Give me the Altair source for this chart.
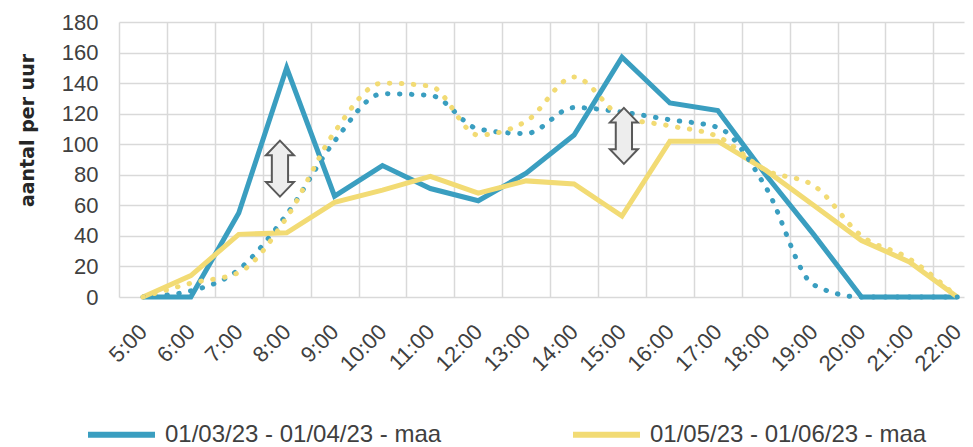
import altair as alt
import pandas as pd

# ---- data ----
hour_labels = ["5:00", "6:00", "7:00", "8:00", "9:00", "10:00", "11:00", "12:00",
               "13:00", "14:00", "15:00", "16:00", "17:00", "18:00", "19:00",
               "20:00", "21:00", "22:00"]
hour_num = list(range(5, 23))
series_names = ["01/03/23 - 01/04/23 - maa", "01/05/23 - 01/06/23 - maa"]

blue_solid = [0, 0, 55, 150, 66, 86, 71, 63, 81, 106, 157, 127, 122, 80, 41, 0, 0, 0]
yellow_solid = [0, 14, 41, 42, 62, 70, 79, 68, 76, 74, 53, 102, 102, 83, 60, 37, 23, 0]
blue_dotted = [0, 4, 18, 54, 102, 133, 132, 110, 107, 124, 121, 116, 111, 72, 8, 0, 0, 0]
yellow_dotted = [0, 9, 16, 52, 108, 140, 138, 106, 115, 144, 118, 112, 105, 83, 73, 40, 25, 0]

arrow_hour = [7.86, 15.04]
arrow_value = [84, 105.5]

y_ticks = list(range(0, 181, 20))
grid_x = [h - 0.5 for h in hour_num]  # category boundaries

colors = ["#3A9EC0", "#F2DB74"]
FONT = "Liberation Sans"
TXT = "#404040"

# ---- tables ----
solid_df = pd.DataFrame({
    "hour": hour_num * 2,
    "value": blue_solid + yellow_solid,
    "series": [series_names[0]] * 18 + [series_names[1]] * 18,
})
dotted_df = pd.DataFrame({
    "hour": hour_num * 2,
    "value": blue_dotted + yellow_dotted,
    "series": [series_names[0]] * 18 + [series_names[1]] * 18,
})
arrow_df = pd.DataFrame({"hour": arrow_hour, "value": arrow_value})

x_scale = alt.Scale(domain=[4.5, 22.14], nice=False, zero=False)
y_scale = alt.Scale(domain=[0, 180], nice=False)
color_scale = alt.Scale(domain=series_names, range=colors)

y_axis = alt.Axis(
    values=y_ticks, title="aantal per uur", grid=True, gridColor="#d9d9d9",
    gridWidth=1.5, domain=False, ticks=False, tickSize=0, labelPadding=21,
    labelFont=FONT, labelFontSize=22, labelColor=TXT,
    titleFont="DejaVu Sans", titleFontSize=19, titleFontWeight="bold",
    titleColor="#262626", titleAngle=270, titleX=-92, titleY=108,
    titleAlign="center", titleBaseline="middle",
)
y_enc = alt.Y("value:Q", scale=y_scale, axis=y_axis)

label_expr = "[" + ",".join("'%s'" % h for h in hour_labels) + "][datum.value - 5]"

grid_axis = alt.Axis(values=grid_x, grid=True, gridColor="#d9d9d9", gridWidth=1.5,
                     labels=False, ticks=False, domain=False, title=None, orient="bottom")
label_axis = alt.Axis(values=hour_num, grid=False, ticks=False, tickSize=0, domain=False,
                      title=None, orient="bottom", labelExpr=label_expr,
                      labelAngle=-45, labelAlign="right", labelBaseline="middle",
                      labelPadding=31, labelFont=FONT, labelFontSize=22,
                      labelColor=TXT, labelOverlap=False, labelBound=False,
                      labelFlush=False)

solid = alt.Chart(solid_df).mark_line(strokeWidth=5, strokeJoin="miter").encode(
    x=alt.X("hour:Q", scale=x_scale, axis=grid_axis),
    y=y_enc,
    color=alt.Color("series:N", scale=color_scale, legend=alt.Legend(
        title=None, orient="none", legendX=-34, legendY=376, direction="horizontal",
        symbolType="stroke", symbolSize=4489, symbolStrokeWidth=6,
        symbolOpacity=1, symbolDash=[1, 0],
        labelFont=FONT, labelFontSize=24, labelColor=TXT, labelOffset=7,
        labelLimit=500, columnPadding=119, padding=0)),
)

dotted = alt.Chart(dotted_df).mark_line(
    strokeWidth=5, strokeDash=[0.5, 11.5], strokeCap="round", interpolate="monotone"
).encode(
    x=alt.X("hour:Q", scale=x_scale, axis=label_axis),
    y=y_enc,
    color=alt.Color("series:N", scale=color_scale, legend=None),
)

arrow_path = ("M0,-1L0.5,-0.48L0.29,-0.48L0.29,0.48L0.5,0.48L0,1L-0.5,0.48"
              "L-0.29,0.48L-0.29,-0.48L-0.5,-0.48Z")
arrows = alt.Chart(arrow_df).mark_point(
    shape=arrow_path, size=3136, filled=True, fill="#EDEDED", stroke="#595959",
    strokeWidth=2, opacity=1, fillOpacity=1, strokeOpacity=1
).encode(
    x=alt.X("hour:Q", scale=x_scale, axis=None),
    y=y_enc,
)

chart = alt.layer(solid, dotted, arrows).resolve_axis(x="independent").properties(
    width=845, height=275,
    autosize=alt.AutoSizeParams(type="none"),
    padding={"left": 111, "top": 14, "right": 1, "bottom": 150},
).configure_view(stroke=None)

chart.save("out.html", embed_options={"renderer": "svg", "actions": False})
